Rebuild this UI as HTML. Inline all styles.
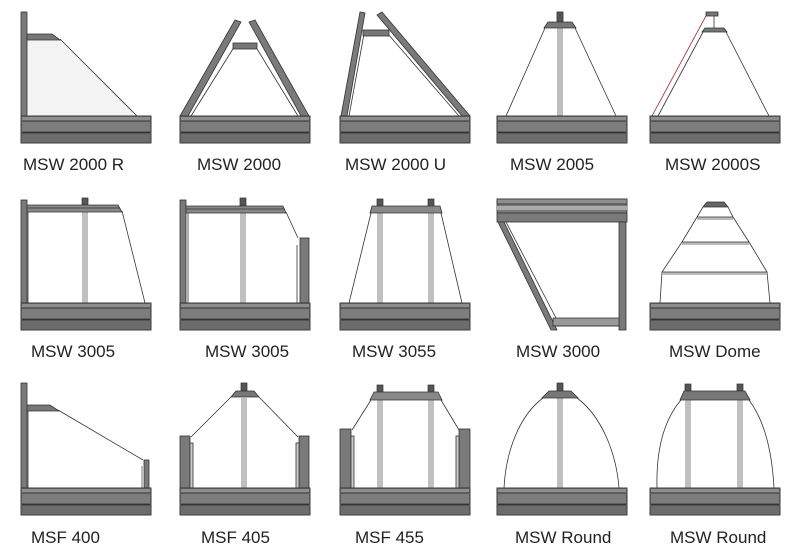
<!DOCTYPE html>
<html><head><meta charset="utf-8"><style>
html,body{margin:0;padding:0;background:#fff;}
svg{display:block;}
text{font-family:"Liberation Sans",sans-serif;font-size:17px;fill:#222;}
</style></head><body>
<svg width="800" height="557" viewBox="0 0 800 557" xmlns="http://www.w3.org/2000/svg">
<defs>
<g id="base">
<rect x="0" y="0" width="130" height="27" fill="#767676"/>
<rect x="0" y="0" width="130" height="5" fill="#8e8e8e"/>
<rect x="0" y="5" width="130" height="11" fill="#7d7d7d"/>
<rect x="0" y="17" width="130" height="10" fill="#6c6c6c"/>
<line x1="0" y1="5" x2="130" y2="5" stroke="#333" stroke-width="1"/>
<line x1="0" y1="16.5" x2="130" y2="16.5" stroke="#333" stroke-width="1"/>
<rect x="0.5" y="0.5" width="129" height="26" fill="none" stroke="#555" stroke-width="1"/>
</g>
<g id="cap">
<rect x="-3" y="-7" width="6" height="8" fill="#555" stroke="#333" stroke-width="0.7"/>
</g>
</defs>
<g stroke="#333" stroke-width="0.8">

<!-- Row 1 -->
<polygon points="27,40 60,40 137,116 27,116" fill="#f3f3f3" stroke="none"/>
<rect x="21" y="12" width="6" height="104" fill="#7a7a7a"/>
<polygon points="27,34 52,34 60,40 27,40" fill="#777"/>
<line x1="60" y1="39" x2="137" y2="116"/>
<use href="#base" x="21" y="116"/>

<polygon points="180,116 188,116 241,22 235,20" fill="#7a7a7a"/>
<polygon points="309,116 301,116 249,22 255,20" fill="#7a7a7a"/>
<line x1="191" y1="116" x2="236" y2="44"/>
<line x1="298" y1="116" x2="254" y2="44"/>
<rect x="233" y="43" width="24" height="6" fill="#777"/>
<use href="#base" x="180" y="116"/>

<polygon points="341,116 347,116 365,13 360,12" fill="#7a7a7a"/>
<polygon points="470,116 462,116 377,15 382,12" fill="#7a7a7a"/>
<line x1="349" y1="116" x2="364" y2="34"/>
<line x1="459" y1="116" x2="388" y2="34"/>
<rect x="363" y="30" width="26" height="6" fill="#777"/>
<use href="#base" x="340" y="116"/>

<rect x="557" y="27" width="6" height="89" fill="#bdbdbd" stroke="none"/>
<rect x="557" y="12" width="6" height="12" fill="#555"/>
<polygon points="548,22 572,22 576,28 544,28" fill="#777"/>
<line x1="545" y1="28" x2="506" y2="116"/>
<line x1="575" y1="28" x2="616" y2="116"/>
<use href="#base" x="497" y="116"/>

<rect x="706" y="12" width="12" height="4" fill="#777"/>
<line x1="714" y1="16" x2="714" y2="28"/>
<polygon points="705,28 724,28 727,32 702,32" fill="#777"/>
<line x1="707" y1="14" x2="652" y2="116" stroke="#a33"/>
<line x1="703" y1="32" x2="658" y2="116"/>
<line x1="726" y1="32" x2="769" y2="116"/>
<use href="#base" x="650" y="116"/>

<!-- Row 2 -->
<rect x="82" y="212" width="6" height="91" fill="#c0c0c0" stroke="none"/>
<rect x="21" y="200" width="6" height="103" fill="#7a7a7a"/>
<line x1="28" y1="212" x2="28" y2="303"/>
<use href="#cap" x="85" y="205"/>
<polygon points="27,205 118,205 122,212 27,212" fill="#888"/>
<line x1="27" y1="208" x2="120" y2="208"/>
<line x1="122" y1="211" x2="145" y2="303"/>
<use href="#base" x="21" y="303"/>

<rect x="240" y="212" width="6" height="91" fill="#c0c0c0" stroke="none"/>
<rect x="180" y="200" width="6" height="103" fill="#7a7a7a"/>
<line x1="188" y1="212" x2="188" y2="303"/>
<use href="#cap" x="243" y="205"/>
<polygon points="186,206 283,206 286,213 186,213" fill="#888"/>
<line x1="186" y1="209" x2="284" y2="209"/>
<line x1="286" y1="212" x2="298" y2="238"/>
<rect x="300" y="238" width="9" height="65" fill="#7a7a7a"/>
<line x1="297" y1="245" x2="297" y2="303"/>
<use href="#base" x="180" y="303"/>

<rect x="377" y="213" width="6" height="90" fill="#c0c0c0" stroke="none"/>
<rect x="428" y="213" width="6" height="90" fill="#c0c0c0" stroke="none"/>
<use href="#cap" x="380" y="206"/>
<use href="#cap" x="431" y="206"/>
<polygon points="372,206 440,206 442,213 370,213" fill="#888"/>
<line x1="371" y1="213" x2="349" y2="303"/>
<line x1="441" y1="213" x2="462" y2="303"/>
<use href="#base" x="340" y="303"/>

<rect x="497" y="199" width="130" height="23" fill="#7a7a7a"/>
<rect x="497" y="199" width="130" height="5" fill="#8e8e8e"/>
<rect x="497" y="206" width="130" height="4" fill="#aaa" stroke="none"/>
<line x1="497" y1="213" x2="627" y2="213"/>
<polygon points="498,222 504,222 557,330 551,330" fill="#7a7a7a"/>
<line x1="506" y1="222" x2="556" y2="318"/>
<rect x="619" y="222" width="7" height="108" fill="#7a7a7a"/>
<rect x="553" y="318" width="66" height="8" fill="#999"/>
<line x1="553" y1="326" x2="619" y2="326"/>

<!-- MSW Dome -->
<polygon points="707,202 724,202 728,207 703,207" fill="#666"/>
<polyline points="703,207 697,217 682,242 662,272 660,303" fill="none"/>
<polyline points="728,207 733,217 749,242 767,272 770,303" fill="none"/>
<rect x="697" y="217" width="36" height="3" fill="#bbb" stroke="none"/>
<line x1="697" y1="217" x2="733" y2="217"/>
<rect x="682" y="242" width="67" height="3" fill="#bbb" stroke="none"/>
<line x1="682" y1="242" x2="749" y2="242"/>
<rect x="662" y="272" width="105" height="3" fill="#bbb" stroke="none"/>
<line x1="662" y1="272" x2="767" y2="272"/>
<use href="#base" x="650" y="303"/>

<!-- Row 3 -->
<rect x="21" y="383" width="6" height="105" fill="#7a7a7a"/>
<line x1="28" y1="410" x2="28" y2="488"/>
<polygon points="27,405 50,405 59,411 27,411" fill="#777"/>
<line x1="58" y1="410" x2="143" y2="460"/>
<rect x="144" y="460" width="5" height="28" fill="#7a7a7a"/>
<rect x="141" y="466" width="3" height="22" fill="#bbb" stroke="none"/>
<use href="#base" x="21" y="488"/>

<rect x="241" y="398" width="6" height="90" fill="#c0c0c0" stroke="none"/>
<use href="#cap" x="244" y="390"/>
<polygon points="236,391 254,391 259,397 231,397" fill="#777"/>
<line x1="231" y1="397" x2="191" y2="437"/>
<line x1="259" y1="397" x2="298" y2="437"/>
<rect x="180" y="436" width="10" height="52" fill="#7a7a7a"/>
<rect x="190" y="443" width="3" height="45" fill="#ccc"/>
<rect x="299" y="436" width="10" height="52" fill="#7a7a7a"/>
<rect x="296" y="443" width="3" height="45" fill="#ccc"/>
<use href="#base" x="180" y="488"/>

<rect x="377" y="400" width="6" height="88" fill="#c0c0c0" stroke="none"/>
<rect x="428" y="400" width="6" height="88" fill="#c0c0c0" stroke="none"/>
<use href="#cap" x="380" y="392"/>
<use href="#cap" x="431" y="392"/>
<polygon points="374,392 438,392 442,400 370,400" fill="#888"/>
<line x1="371" y1="400" x2="352" y2="430"/>
<line x1="441" y1="400" x2="459" y2="430"/>
<rect x="340" y="429" width="11" height="59" fill="#7a7a7a"/>
<rect x="351" y="436" width="3" height="52" fill="#ccc"/>
<rect x="459" y="429" width="11" height="59" fill="#7a7a7a"/>
<rect x="456" y="436" width="3" height="52" fill="#ccc"/>
<use href="#base" x="340" y="488"/>

<rect x="557" y="398" width="6" height="90" fill="#c0c0c0" stroke="none"/>
<use href="#cap" x="560" y="390"/>
<polygon points="549,391 571,391 578,398 542,398" fill="#777"/>
<path d="M543,398 C520,415 506,450 504,488" fill="none"/>
<path d="M577,398 C600,415 616,450 619,488" fill="none"/>
<use href="#base" x="497" y="488"/>

<rect x="685" y="398" width="6" height="90" fill="#c0c0c0" stroke="none"/>
<rect x="737" y="398" width="6" height="90" fill="#c0c0c0" stroke="none"/>
<use href="#cap" x="688" y="391"/>
<use href="#cap" x="740" y="391"/>
<polygon points="684,391 745,391 750,400 680,400" fill="#777"/>
<path d="M681,400 C664,420 656,450 657,488" fill="none"/>
<path d="M749,400 C764,420 772,450 774,488" fill="none"/>
<use href="#base" x="650" y="488"/>
</g>

<text x="23" y="170">MSW 2000 R</text>
<text x="197" y="170">MSW 2000</text>
<text x="345" y="170">MSW 2000 U</text>
<text x="510" y="170">MSW 2005</text>
<text x="665" y="170">MSW 2000S</text>

<text x="31" y="357">MSW 3005</text>
<text x="205" y="357">MSW 3005</text>
<text x="352" y="357">MSW 3055</text>
<text x="516" y="357">MSW 3000</text>
<text x="669" y="357">MSW Dome</text>

<text x="31" y="543">MSF 400</text>
<text x="201" y="543">MSF 405</text>
<text x="355" y="543">MSF 455</text>
<text x="515" y="543">MSW Round</text>
<text x="670" y="543">MSW Round</text>
</svg>
</body></html>
